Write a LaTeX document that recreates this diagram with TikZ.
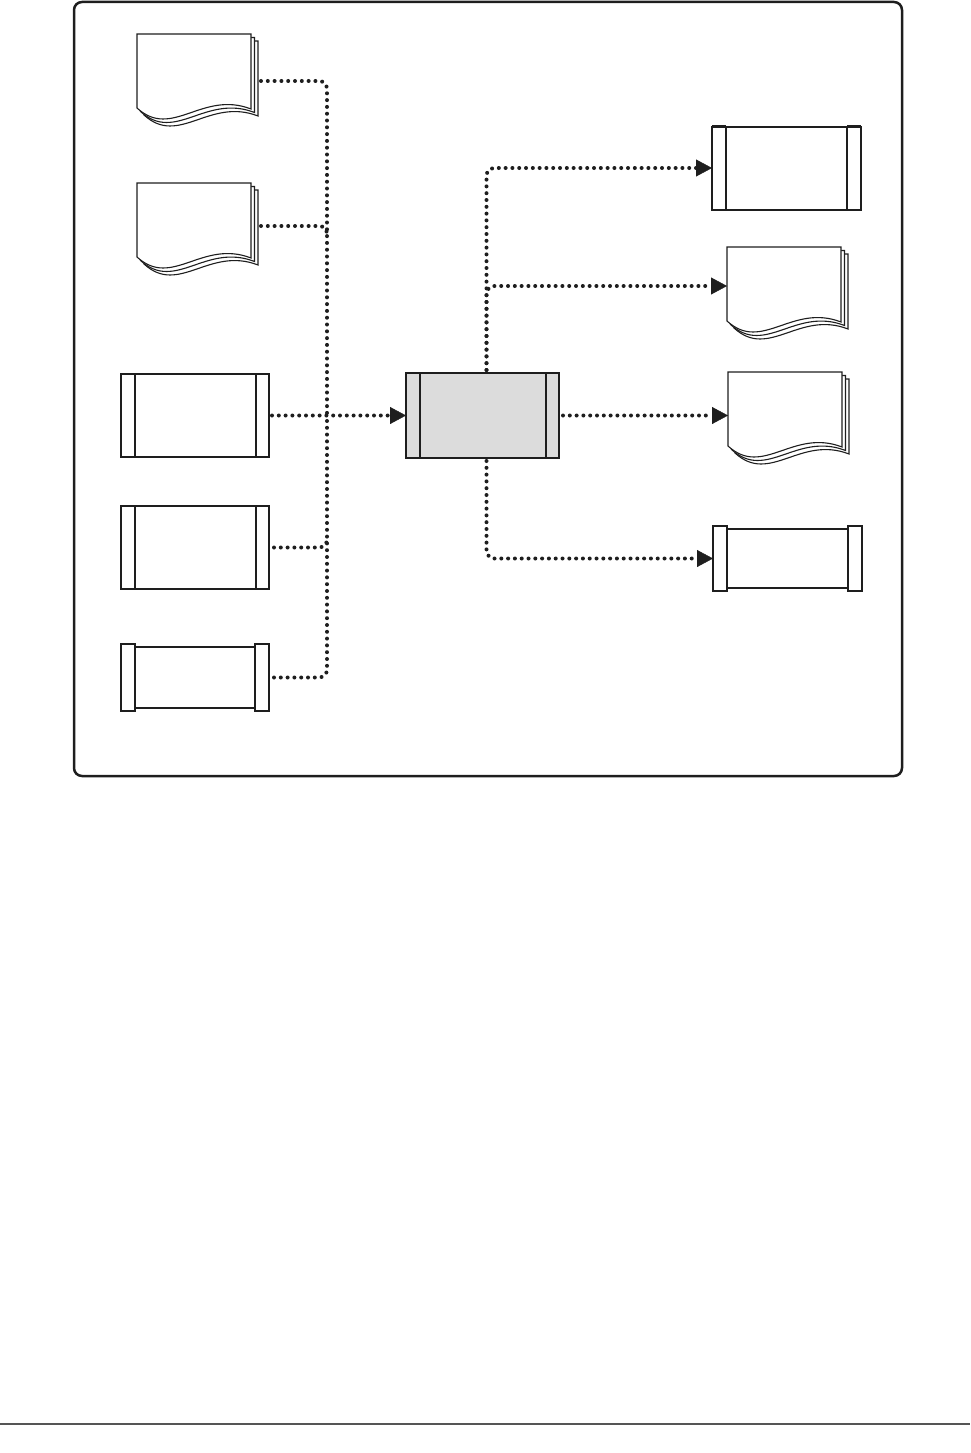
\documentclass[tikz,border=0pt]{standalone}
\usetikzlibrary{arrows.meta,calc}
\definecolor{boxgray}{HTML}{DCDCDC}
\definecolor{rulegray}{HTML}{555555}
\definecolor{ink}{HTML}{1E1E1E}
\tikzset{
  frame/.style={draw=ink, line width=2.5pt, rounded corners=8pt},
  slot/.style={draw=none, inner sep=0pt, outer sep=0pt, anchor=north west},
  thinline/.style={draw=ink, line width=1.1pt},
  thickline/.style={draw=ink, line width=2.2pt},
  link/.style={draw=ink, line width=4pt, line cap=round, dash pattern=on 0pt off 6.8pt, rounded corners=8pt},
  flow/.style={link, -{Triangle[length=16pt,width=17pt,line width=0.4pt]}},
}
\newcommand{\docstack}[1]{%
  \foreach \o in {7,3.5,0}{%
    \path[thinline, fill=white, shift={($(#1.north west)+(\o,\o)$)}]
      (0,0) -- (114,0) -- (114,75) .. controls (65,56) and (35,106) .. (0,74) -- cycle;}}
\newcommand{\sidebox}[2]{%
  \draw[thinline, fill=#2] (#1.north west) rectangle (#1.south east);
  \draw[thinline] ($(#1.north west)+(14,0)$) -- ($(#1.south west)+(14,0)$);
  \draw[thinline] ($(#1.north east)+(-13,0)$) -- ($(#1.south east)+(-13,0)$);}
\newcommand{\pipebox}[1]{%
  \draw[thickline] ($(#1.north west)+(14,3)$) rectangle ($(#1.south east)+(-14,-3)$);
  \draw[thinline, fill=white] (#1.north west) rectangle ($(#1.south west)+(14,0)$);
  \draw[thinline, fill=white] ($(#1.north east)+(-14,0)$) rectangle (#1.south east);}
\begin{document}
\begin{tikzpicture}[x=1pt,y=-1pt]
\useasboundingbox (0,0) rectangle (970,1453);
% outer frame
\draw[frame] (74,2) rectangle (902,776);
% page rule
\draw[rulegray, line width=1.6pt] (0,1424) -- (970,1424);

% placeholder nodes
\node[slot, minimum width=114pt, minimum height=75pt] (d1) at (137,34) {};
\node[slot, minimum width=114pt, minimum height=75pt] (d2) at (137,183) {};
\node[slot, minimum width=148pt, minimum height=83pt] (b3) at (121,374) {};
\node[slot, minimum width=148pt, minimum height=83pt] (b4) at (121,506) {};
\node[slot, minimum width=148pt, minimum height=67pt] (b5) at (121,644) {};
\node[slot, minimum width=153pt, minimum height=85pt] (c) at (406,373) {};
\node[slot, minimum width=149pt, minimum height=84pt] (r1) at (712,126) {};
\node[slot, minimum width=114pt, minimum height=75pt] (r2) at (727,247) {};
\node[slot, minimum width=114pt, minimum height=75pt] (r3) at (728,372) {};
\node[slot, minimum width=149pt, minimum height=65pt] (r4) at (713,526) {};

% shapes
\docstack{d1}
\docstack{d2}
\docstack{r2}
\docstack{r3}
\sidebox{b3}{white}
\sidebox{b4}{white}
\pipebox{b5}
\pipebox{r4}
% centre box
\draw[thickline, fill=boxgray] (c.north west) rectangle (c.south east);
\draw[thinline] ($(c.north west)+(14,0)$) -- ($(c.south west)+(14,0)$);
\draw[thinline] ($(c.north east)+(-13,0)$) -- ($(c.south east)+(-13,0)$);
% r1 box with heavy caps
\draw[thinline, fill=white] ($(r1.north west)+(0,1)$) rectangle (r1.south east);
\draw[thickline] ($(r1.north west)+(14,0)$) -- ($(r1.south west)+(14,0)$);
\draw[thickline] ($(r1.north east)+(-14,0)$) -- ($(r1.south east)+(-14,0)$);
\draw[thickline] (r1.north west) -- ($(r1.north west)+(14,0)$);
\draw[thickline] (r1.north east) -- ($(r1.north east)+(-14,0)$);

% connectors
\coordinate (bus) at (327,0);
\coordinate (join) at (bus |- c.west);
\coordinate (s1) at ($(d1.north east)+(10,47)$);
\coordinate (s2) at ($(d2.north east)+(10,43)$);
\coordinate (s4) at ($(b4.east)+(5,0)$);
\coordinate (s5) at ($(b5.east)+(5,0)$);
\coordinate (ctop) at ($(c.north)+(4,-3)$);
\coordinate (cbot) at ($(c.south)+(4,3)$);
\draw[link] (s1) -| (join);
\draw[link] (s2) -| ($(bus |- s2)+(0,8)$);
\draw[link] (s4) -| ($(bus |- s4)+(0,-8)$);
\draw[link] (s5) -| (join);
\draw[flow] ($(b3.east)+(3,0)$) -- (c.west);

\draw[flow] (ctop) |- (r1.west);
\draw[flow] (ctop) |- ($(r2.north west)+(0,39)$);
\draw[flow] ($(c.east)+(4,0)$) -- (c.east -| r3.west);
\draw[flow] (cbot) |- (r4.west);
\end{tikzpicture}
\end{document}
